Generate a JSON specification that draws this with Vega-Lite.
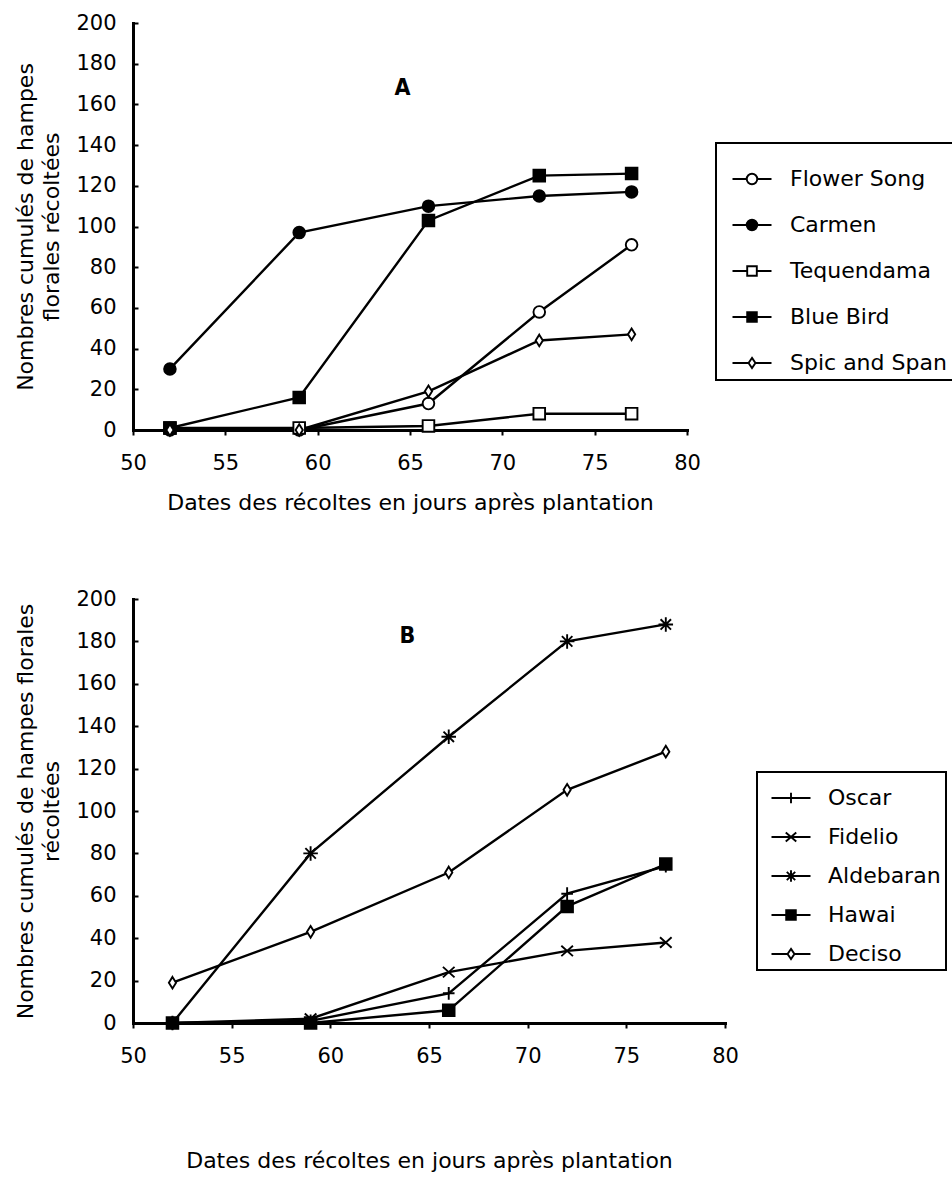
{
  "$schema": "https://vega.github.io/schema/vega-lite/v6.json",
  "background": "white",
  "padding": {"left": 14, "top": 12, "right": 0, "bottom": 5},
  "config": {
    "font": "DejaVu Sans",
    "view": {"stroke": null},
    "axis": {
      "grid": false,
      "domainColor": "black",
      "domainWidth": 3,
      "domainCap": "square",
      "tickColor": "black",
      "tickWidth": 2,
      "tickSize": 5,
      "labelColor": "black",
      "labelFont": "DejaVu Sans",
      "labelFontSize": 21,
      "labelFlush": false,
      "titleColor": "black",
      "titleFont": "DejaVu Sans",
      "titleFontSize": 22,
      "titleFontWeight": "normal"
    },
    "point": {"filled": true, "stroke": "black", "strokeWidth": 1.9, "size": 135, "opacity": 1},
    "legend": {
      "orient": "none",
      "strokeColor": "black",
      "strokeWidth": 2,
      "fillColor": "white",
      "symbolSize": 900,
      "symbolStrokeColor": "black",
      "symbolStrokeWidth": 2,
      "symbolOpacity": 1,
      "labelFont": "DejaVu Sans",
      "labelFontSize": 22,
      "labelColor": "black",
      "labelLimit": 0
    }
  },
  "datasets": {
    "series": [
      {"panel": "A", "variety": "Flower Song", "day": 52, "count": 0},
      {"panel": "A", "variety": "Flower Song", "day": 59, "count": 0},
      {"panel": "A", "variety": "Flower Song", "day": 66, "count": 13},
      {"panel": "A", "variety": "Flower Song", "day": 72, "count": 58},
      {"panel": "A", "variety": "Flower Song", "day": 77, "count": 91},
      {"panel": "A", "variety": "Carmen", "day": 52, "count": 30},
      {"panel": "A", "variety": "Carmen", "day": 59, "count": 97},
      {"panel": "A", "variety": "Carmen", "day": 66, "count": 110},
      {"panel": "A", "variety": "Carmen", "day": 72, "count": 115},
      {"panel": "A", "variety": "Carmen", "day": 77, "count": 117},
      {"panel": "A", "variety": "Tequendama", "day": 52, "count": 1},
      {"panel": "A", "variety": "Tequendama", "day": 59, "count": 1},
      {"panel": "A", "variety": "Tequendama", "day": 66, "count": 2},
      {"panel": "A", "variety": "Tequendama", "day": 72, "count": 8},
      {"panel": "A", "variety": "Tequendama", "day": 77, "count": 8},
      {"panel": "A", "variety": "Blue Bird", "day": 52, "count": 1},
      {"panel": "A", "variety": "Blue Bird", "day": 59, "count": 16},
      {"panel": "A", "variety": "Blue Bird", "day": 66, "count": 103},
      {"panel": "A", "variety": "Blue Bird", "day": 72, "count": 125},
      {"panel": "A", "variety": "Blue Bird", "day": 77, "count": 126},
      {"panel": "A", "variety": "Spic and Span", "day": 52, "count": 0},
      {"panel": "A", "variety": "Spic and Span", "day": 59, "count": 0},
      {"panel": "A", "variety": "Spic and Span", "day": 66, "count": 19},
      {"panel": "A", "variety": "Spic and Span", "day": 72, "count": 44},
      {"panel": "A", "variety": "Spic and Span", "day": 77, "count": 47},
      {"panel": "B", "variety": "Oscar", "day": 52, "count": 0},
      {"panel": "B", "variety": "Oscar", "day": 59, "count": 1},
      {"panel": "B", "variety": "Oscar", "day": 66, "count": 14},
      {"panel": "B", "variety": "Oscar", "day": 72, "count": 61},
      {"panel": "B", "variety": "Oscar", "day": 77, "count": 74},
      {"panel": "B", "variety": "Fidelio", "day": 52, "count": 0},
      {"panel": "B", "variety": "Fidelio", "day": 59, "count": 2},
      {"panel": "B", "variety": "Fidelio", "day": 66, "count": 24},
      {"panel": "B", "variety": "Fidelio", "day": 72, "count": 34},
      {"panel": "B", "variety": "Fidelio", "day": 77, "count": 38},
      {"panel": "B", "variety": "Aldebaran", "day": 52, "count": 0},
      {"panel": "B", "variety": "Aldebaran", "day": 59, "count": 80},
      {"panel": "B", "variety": "Aldebaran", "day": 66, "count": 135},
      {"panel": "B", "variety": "Aldebaran", "day": 72, "count": 180},
      {"panel": "B", "variety": "Aldebaran", "day": 77, "count": 188},
      {"panel": "B", "variety": "Hawai", "day": 52, "count": 0},
      {"panel": "B", "variety": "Hawai", "day": 59, "count": 0},
      {"panel": "B", "variety": "Hawai", "day": 66, "count": 6},
      {"panel": "B", "variety": "Hawai", "day": 72, "count": 55},
      {"panel": "B", "variety": "Hawai", "day": 77, "count": 75},
      {"panel": "B", "variety": "Deciso", "day": 52, "count": 19},
      {"panel": "B", "variety": "Deciso", "day": 59, "count": 43},
      {"panel": "B", "variety": "Deciso", "day": 66, "count": 71},
      {"panel": "B", "variety": "Deciso", "day": 72, "count": 110},
      {"panel": "B", "variety": "Deciso", "day": 77, "count": 128}
    ],
    "labels": [
      {"panel": "A", "day": 64.6, "count": 168, "label": "A"},
      {"panel": "B", "day": 63.9, "count": 182.5, "label": "B"}
    ]
  },
  "spacing": 75,
  "resolve": {
    "scale": {"x": "independent", "y": "independent", "shape": "independent", "fill": "independent", "stroke": "independent"},
    "legend": {"shape": "independent", "fill": "independent", "stroke": "independent"}
  },
  "vconcat": [
    {
      "width": 554,
      "height": 407,
      "layer": [
        {
          "data": {"name": "series"},
          "transform": [{"filter": "datum.panel === 'A'"}],
          "mark": {"type": "line", "stroke": "black", "strokeWidth": 2.4},
          "encoding": {
            "x": {"field": "day", "type": "quantitative", "scale": {"domain": [50, 80], "nice": false},
                  "axis": {"values": [50, 55, 60, 65, 70, 75, 80], "title": "Dates des récoltes en jours après plantation", "labelPadding": 17, "titlePadding": 19}},
            "y": {"field": "count", "type": "quantitative", "scale": {"domain": [0, 200], "nice": false},
                  "axis": {"values": [0, 20, 40, 60, 80, 100, 120, 140, 160, 180, 200], "title": ["Nombres cumulés de hampes", "florales récoltées"], "tickSize": -5, "labelPadding": 22, "titlePadding": 12, "titleLineHeight": 26}},
            "detail": {"field": "variety"}
          }
        },
        {
          "data": {"name": "series"},
          "transform": [{"filter": "datum.variety === 'Flower Song'"}],
          "mark": {"type": "point", "shape": "circle", "fill": "white"},
          "encoding": {"x": {"field": "day", "type": "quantitative"}, "y": {"field": "count", "type": "quantitative"}}
        },
        {
          "data": {"name": "series"},
          "transform": [{"filter": "datum.variety === 'Carmen'"}],
          "mark": {"type": "point", "shape": "circle", "fill": "black"},
          "encoding": {"x": {"field": "day", "type": "quantitative"}, "y": {"field": "count", "type": "quantitative"}}
        },
        {
          "data": {"name": "series"},
          "transform": [{"filter": "datum.variety === 'Tequendama'"}],
          "mark": {"type": "point", "shape": "square", "fill": "white"},
          "encoding": {"x": {"field": "day", "type": "quantitative"}, "y": {"field": "count", "type": "quantitative"}}
        },
        {
          "data": {"name": "series"},
          "transform": [{"filter": "datum.variety === 'Blue Bird'"}],
          "mark": {"type": "point", "shape": "square", "fill": "black"},
          "encoding": {"x": {"field": "day", "type": "quantitative"}, "y": {"field": "count", "type": "quantitative"}}
        },
        {
          "data": {"name": "series"},
          "transform": [{"filter": "datum.variety === 'Spic and Span'"}],
          "mark": {"type": "point", "shape": "M0,-1L0.62,0L0,1L-0.62,0Z", "fill": "white"},
          "encoding": {"x": {"field": "day", "type": "quantitative"}, "y": {"field": "count", "type": "quantitative"}}
        },
        {
          "data": {"name": "series"},
          "transform": [{"filter": "datum.panel === 'A' && datum.count < 0"}],
          "mark": {"type": "point", "strokeWidth": 2},
          "encoding": {
            "x": {"field": "day", "type": "quantitative"},
            "y": {"field": "count", "type": "quantitative"},
            "fill": {"field": "variety", "type": "nominal",
                     "scale": {"domain": ["Flower Song", "Carmen", "Tequendama", "Blue Bird", "Spic and Span"], "range": ["white", "black", "white", "black", "white"]},
                     "legend": {"title": " ", "titleFontSize": 8, "titlePadding": 6, "legendX": 583, "legendY": 120, "padding": 6, "symbolOffset": 14, "labelOffset": 22, "rowPadding": 19, "symbolStrokeWidth": 2}},
            "stroke": {"field": "variety", "type": "nominal",
                     "scale": {"domain": ["Flower Song", "Carmen", "Tequendama", "Blue Bird", "Spic and Span"], "range": ["black", "black", "black", "black", "black"]},
                     "legend": {"title": " ", "titleFontSize": 8, "titlePadding": 6, "legendX": 583, "legendY": 120, "padding": 6, "symbolOffset": 14, "labelOffset": 22, "rowPadding": 19, "symbolStrokeWidth": 2}},
            "shape": {"field": "variety", "type": "nominal",
                      "scale": {"domain": ["Flower Song", "Carmen", "Tequendama", "Blue Bird", "Spic and Span"],
                                "range": [
                                  "M-1.3,0H-0.35M0.35,0H1.3M0.35,0A0.35,0.35,0,1,1,-0.35,0A0.35,0.35,0,1,1,0.35,0Z",
                                  "M-1.3,0H-0.35M0.35,0H1.3M0.35,0A0.35,0.35,0,1,1,-0.35,0A0.35,0.35,0,1,1,0.35,0Z",
                                  "M-1.3,0H-0.32M0.32,0H1.3M-0.32,-0.32H0.32V0.32H-0.32Z",
                                  "M-1.3,0H-0.32M0.32,0H1.3M-0.32,-0.32H0.32V0.32H-0.32Z",
                                  "M-1.3,0H-0.23M0.23,0H1.3M0,-0.34L0.23,0L0,0.34L-0.23,0Z"
                                ]},
                      "legend": {"title": " ", "titleFontSize": 8, "titlePadding": 6, "legendX": 583, "legendY": 120, "padding": 6, "symbolOffset": 14, "labelOffset": 22, "rowPadding": 19, "symbolStrokeWidth": 2}}
          }
        },
        {
          "data": {"name": "labels"},
          "transform": [{"filter": "datum.panel === 'A'"}],
          "mark": {"type": "text", "font": "DejaVu Sans Condensed", "fontWeight": "bold", "fontSize": 23, "color": "black", "align": "center", "baseline": "middle"},
          "encoding": {
            "x": {"field": "day", "type": "quantitative"},
            "y": {"field": "count", "type": "quantitative"},
            "text": {"field": "label"}
          }
        }
      ]
    },
    {
      "width": 592,
      "height": 424,
      "layer": [
        {
          "data": {"name": "series"},
          "transform": [{"filter": "datum.panel === 'B'"}],
          "mark": {"type": "line", "stroke": "black", "strokeWidth": 2.4},
          "encoding": {
            "x": {"field": "day", "type": "quantitative", "scale": {"domain": [50, 80], "nice": false},
                  "axis": {"values": [50, 55, 60, 65, 70, 75, 80], "title": "Dates des récoltes en jours après plantation", "labelPadding": 17, "titlePadding": 84}},
            "y": {"field": "count", "type": "quantitative", "scale": {"domain": [0, 200], "nice": false},
                  "axis": {"values": [0, 20, 40, 60, 80, 100, 120, 140, 160, 180, 200], "title": ["Nombres cumulés de hampes florales", "récoltées"], "tickSize": -5, "labelPadding": 22, "titlePadding": 12, "titleLineHeight": 26}},
            "detail": {"field": "variety"}
          }
        },
        {
          "data": {"name": "series"},
          "transform": [{"filter": "datum.variety === 'Oscar'"}],
          "mark": {"type": "point", "shape": "M0,-1.1V1.1M-1,0H1", "fill": "black"},
          "encoding": {"x": {"field": "day", "type": "quantitative"}, "y": {"field": "count", "type": "quantitative"}}
        },
        {
          "data": {"name": "series"},
          "transform": [{"filter": "datum.variety === 'Fidelio'"}],
          "mark": {"type": "point", "shape": "M-1,-0.9L1,0.9M-1,0.9L1,-0.9", "fill": "black"},
          "encoding": {"x": {"field": "day", "type": "quantitative"}, "y": {"field": "count", "type": "quantitative"}}
        },
        {
          "data": {"name": "series"},
          "transform": [{"filter": "datum.variety === 'Aldebaran'"}],
          "mark": {"type": "point", "shape": "M0,-1.25V1.25M-1.25,0H1.25M-0.9,-0.9L0.9,0.9M-0.9,0.9L0.9,-0.9", "fill": "black"},
          "encoding": {"x": {"field": "day", "type": "quantitative"}, "y": {"field": "count", "type": "quantitative"}}
        },
        {
          "data": {"name": "series"},
          "transform": [{"filter": "datum.variety === 'Hawai'"}],
          "mark": {"type": "point", "shape": "square", "fill": "black"},
          "encoding": {"x": {"field": "day", "type": "quantitative"}, "y": {"field": "count", "type": "quantitative"}}
        },
        {
          "data": {"name": "series"},
          "transform": [{"filter": "datum.variety === 'Deciso'"}],
          "mark": {"type": "point", "shape": "M0,-1L0.62,0L0,1L-0.62,0Z", "fill": "white"},
          "encoding": {"x": {"field": "day", "type": "quantitative"}, "y": {"field": "count", "type": "quantitative"}}
        },
        {
          "data": {"name": "series"},
          "transform": [{"filter": "datum.panel === 'B' && datum.count < 0"}],
          "mark": {"type": "point", "strokeWidth": 2},
          "encoding": {
            "x": {"field": "day", "type": "quantitative"},
            "y": {"field": "count", "type": "quantitative"},
            "fill": {"field": "variety", "type": "nominal",
                     "scale": {"domain": ["Oscar", "Fidelio", "Aldebaran", "Hawai", "Deciso"], "range": ["black", "black", "black", "black", "white"]},
                     "legend": {"title": " ", "titleFontSize": 5, "titlePadding": 0, "legendX": 624, "legendY": 173, "padding": 5, "symbolOffset": 13, "labelOffset": 21, "rowPadding": 12, "symbolStrokeWidth": 2}},
            "stroke": {"field": "variety", "type": "nominal",
                     "scale": {"domain": ["Oscar", "Fidelio", "Aldebaran", "Hawai", "Deciso"], "range": ["black", "black", "black", "black", "black"]},
                     "legend": {"title": " ", "titleFontSize": 5, "titlePadding": 0, "legendX": 624, "legendY": 173, "padding": 5, "symbolOffset": 13, "labelOffset": 21, "rowPadding": 12, "symbolStrokeWidth": 2}},
            "shape": {"field": "variety", "type": "nominal",
                      "scale": {"domain": ["Oscar", "Fidelio", "Aldebaran", "Hawai", "Deciso"],
                                "range": [
                                  "M-1.3,0H1.3M0,-0.35V0.35",
                                  "M-1.3,0H1.3M-0.35,-0.3L0.35,0.3M-0.35,0.3L0.35,-0.3",
                                  "M-1.3,0H1.3M0,-0.38V0.38M-0.28,-0.28L0.28,0.28M-0.28,0.28L0.28,-0.28",
                                  "M-1.3,0H-0.32M0.32,0H1.3M-0.32,-0.32H0.32V0.32H-0.32Z",
                                  "M-1.3,0H-0.23M0.23,0H1.3M0,-0.34L0.23,0L0,0.34L-0.23,0Z"
                                ]},
                      "legend": {"title": " ", "titleFontSize": 5, "titlePadding": 0, "legendX": 624, "legendY": 173, "padding": 5, "symbolOffset": 13, "labelOffset": 21, "rowPadding": 12, "symbolStrokeWidth": 2}}
          }
        },
        {
          "data": {"name": "labels"},
          "transform": [{"filter": "datum.panel === 'B'"}],
          "mark": {"type": "text", "font": "DejaVu Sans Condensed", "fontWeight": "bold", "fontSize": 23, "color": "black", "align": "center", "baseline": "middle"},
          "encoding": {
            "x": {"field": "day", "type": "quantitative"},
            "y": {"field": "count", "type": "quantitative"},
            "text": {"field": "label"}
          }
        }
      ]
    }
  ]
}
